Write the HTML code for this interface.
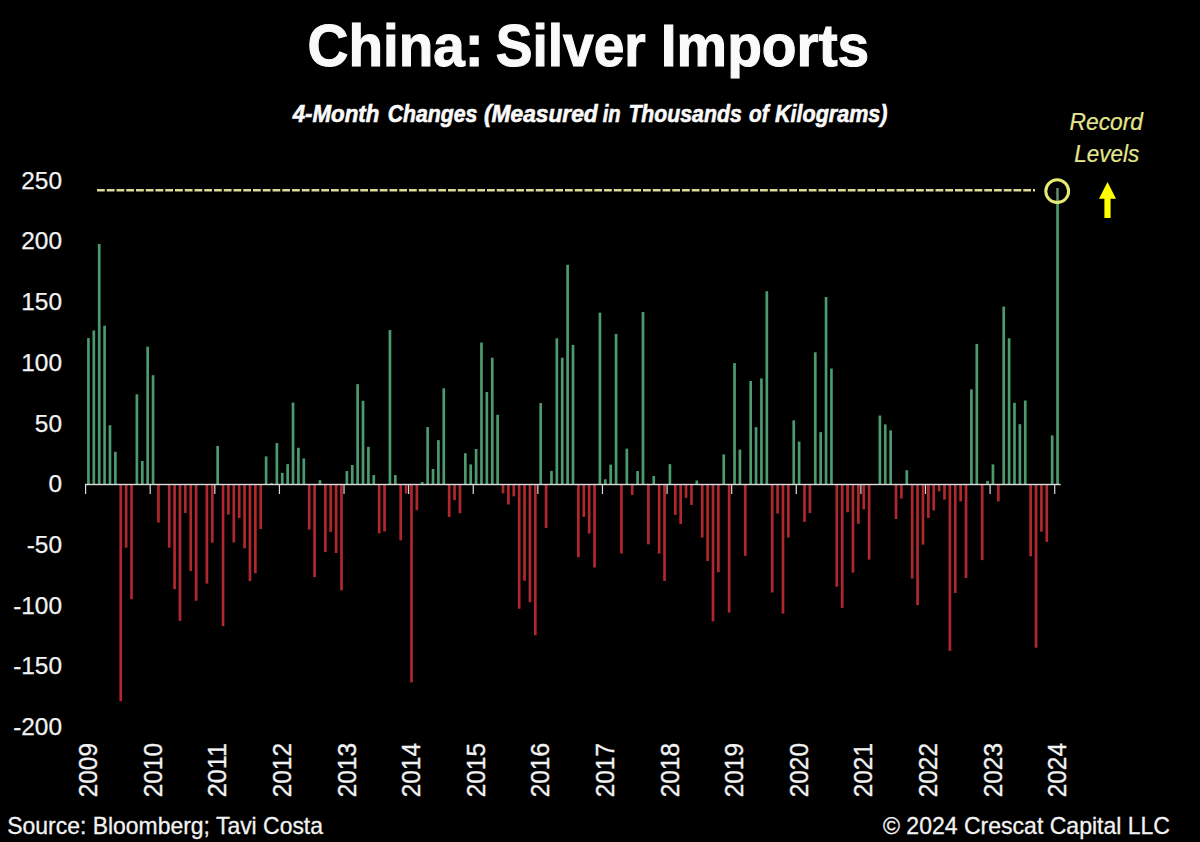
<!DOCTYPE html>
<html><head><meta charset="utf-8"><title>China: Silver Imports</title>
<style>
html,body{margin:0;padding:0;background:#000;}
body{width:1200px;height:842px;overflow:hidden;position:relative;}
svg{position:absolute;left:0;top:0;display:block;}
text{font-family:"Liberation Sans",Arial,sans-serif;}
</style></head><body>
<svg width="1200" height="842" viewBox="0 0 1200 842">
<rect x="0" y="0" width="1200" height="842" fill="#000"/>
<g font-size="59.4" font-weight="bold" fill="#fafafa" stroke="#fafafa" stroke-width="1.1">
<text x="307.59" y="66.3" textLength="176.15" lengthAdjust="spacingAndGlyphs">China:</text>
<text x="495.77" y="66.3" textLength="150.04" lengthAdjust="spacingAndGlyphs">Silver</text>
<text x="660.83" y="66.3" textLength="208.39" lengthAdjust="spacingAndGlyphs">Imports</text>
</g>
<g font-size="23" font-weight="bold" font-style="italic" fill="#fafafa" stroke="#fafafa" stroke-width="0.6">
<text x="292.67" y="121.8" textLength="86.74" lengthAdjust="spacingAndGlyphs">4-Month</text>
<text x="387.7" y="121.8" textLength="89.73" lengthAdjust="spacingAndGlyphs">Changes</text>
<text x="484.0" y="121.8" textLength="113.76" lengthAdjust="spacingAndGlyphs">(Measured</text>
<text x="602.7" y="121.8" textLength="18.0" lengthAdjust="spacingAndGlyphs">in</text>
<text x="628.38" y="121.8" textLength="113.32" lengthAdjust="spacingAndGlyphs">Thousands</text>
<text x="749.0" y="121.8" textLength="19.64" lengthAdjust="spacingAndGlyphs">of</text>
<text x="775.0" y="121.8" textLength="112.43" lengthAdjust="spacingAndGlyphs">Kilograms)</text>
</g>
<g font-size="24.4" fill="#f2f2f2" stroke="#f2f2f2" stroke-width="0.25">
<text x="62" y="188.7" text-anchor="end">250</text>
<text x="62" y="249.4" text-anchor="end">200</text>
<text x="62" y="310.1" text-anchor="end">150</text>
<text x="62" y="370.8" text-anchor="end">100</text>
<text x="62" y="431.5" text-anchor="end">50</text>
<text x="62" y="492.2" text-anchor="end">0</text>
<text x="62" y="552.9" text-anchor="end">-50</text>
<text x="62" y="613.6" text-anchor="end">-100</text>
<text x="62" y="674.3" text-anchor="end">-150</text>
<text x="62" y="735" text-anchor="end">-200</text>
</g>
<line x1="97" y1="190.2" x2="1035" y2="190.2" stroke="#dcd79a" stroke-width="2.5" stroke-dasharray="7.8 1.95"/>
<g>
<rect x="87.1" y="338.09" width="2.69" height="146.41" fill="#4b9b6f"/>
<rect x="92.48" y="330.45" width="2.69" height="154.05" fill="#4b9b6f"/>
<rect x="97.86" y="243.92" width="2.69" height="240.58" fill="#4b9b6f"/>
<rect x="103.25" y="325.73" width="2.69" height="158.77" fill="#4b9b6f"/>
<rect x="108.63" y="425.23" width="2.69" height="59.27" fill="#4b9b6f"/>
<rect x="114.02" y="451.78" width="2.69" height="32.72" fill="#4b9b6f"/>
<rect x="119.4" y="484.5" width="2.69" height="216.71" fill="#b0282e"/>
<rect x="124.79" y="484.5" width="2.69" height="63.15" fill="#b0282e"/>
<rect x="130.17" y="484.5" width="2.69" height="114.78" fill="#b0282e"/>
<rect x="135.55" y="394.33" width="2.69" height="90.17" fill="#4b9b6f"/>
<rect x="140.94" y="460.99" width="2.69" height="23.51" fill="#4b9b6f"/>
<rect x="146.32" y="346.7" width="2.69" height="137.8" fill="#4b9b6f"/>
<rect x="151.71" y="375.18" width="2.69" height="109.32" fill="#4b9b6f"/>
<rect x="157.09" y="484.5" width="2.69" height="38.06" fill="#b0282e"/>
<rect x="167.86" y="484.5" width="2.69" height="63.15" fill="#b0282e"/>
<rect x="173.24" y="484.5" width="2.69" height="104.6" fill="#b0282e"/>
<rect x="178.62" y="484.5" width="2.69" height="136.35" fill="#b0282e"/>
<rect x="184.01" y="484.5" width="2.69" height="28.48" fill="#b0282e"/>
<rect x="189.39" y="484.5" width="2.69" height="86.54" fill="#b0282e"/>
<rect x="194.78" y="484.5" width="2.69" height="116.23" fill="#b0282e"/>
<rect x="205.54" y="484.5" width="2.69" height="99.14" fill="#b0282e"/>
<rect x="210.93" y="484.5" width="2.69" height="58.18" fill="#b0282e"/>
<rect x="216.31" y="445.96" width="2.69" height="38.54" fill="#4b9b6f"/>
<rect x="221.7" y="484.5" width="2.69" height="141.68" fill="#b0282e"/>
<rect x="227.08" y="484.5" width="2.69" height="30.06" fill="#b0282e"/>
<rect x="232.47" y="484.5" width="2.69" height="57.93" fill="#b0282e"/>
<rect x="237.85" y="484.5" width="2.69" height="33.57" fill="#b0282e"/>
<rect x="243.23" y="484.5" width="2.69" height="63.75" fill="#b0282e"/>
<rect x="248.62" y="484.5" width="2.69" height="96.48" fill="#b0282e"/>
<rect x="254" y="484.5" width="2.69" height="88.72" fill="#b0282e"/>
<rect x="259.38" y="484.5" width="2.69" height="44.48" fill="#b0282e"/>
<rect x="264.77" y="456.38" width="2.69" height="28.12" fill="#4b9b6f"/>
<rect x="270.15" y="483.05" width="2.69" height="1.45" fill="#4b9b6f"/>
<rect x="275.54" y="443.05" width="2.69" height="41.45" fill="#4b9b6f"/>
<rect x="280.92" y="472.86" width="2.69" height="11.64" fill="#4b9b6f"/>
<rect x="286.3" y="464.14" width="2.69" height="20.36" fill="#4b9b6f"/>
<rect x="291.69" y="402.57" width="2.69" height="81.93" fill="#4b9b6f"/>
<rect x="297.07" y="447.78" width="2.69" height="36.72" fill="#4b9b6f"/>
<rect x="302.46" y="458.44" width="2.69" height="26.06" fill="#4b9b6f"/>
<rect x="307.84" y="484.5" width="2.69" height="45.09" fill="#b0282e"/>
<rect x="313.22" y="484.5" width="2.69" height="92.6" fill="#b0282e"/>
<rect x="318.61" y="480.14" width="2.69" height="4.36" fill="#4b9b6f"/>
<rect x="323.99" y="484.5" width="2.69" height="67.51" fill="#b0282e"/>
<rect x="329.38" y="484.5" width="2.69" height="47.39" fill="#b0282e"/>
<rect x="334.76" y="484.5" width="2.69" height="68.48" fill="#b0282e"/>
<rect x="340.14" y="484.5" width="2.69" height="105.81" fill="#b0282e"/>
<rect x="345.53" y="471.05" width="2.69" height="13.45" fill="#4b9b6f"/>
<rect x="350.91" y="464.99" width="2.69" height="19.51" fill="#4b9b6f"/>
<rect x="356.3" y="384.15" width="2.69" height="100.35" fill="#4b9b6f"/>
<rect x="361.68" y="400.75" width="2.69" height="83.75" fill="#4b9b6f"/>
<rect x="367.06" y="446.81" width="2.69" height="37.69" fill="#4b9b6f"/>
<rect x="372.45" y="475.05" width="2.69" height="9.45" fill="#4b9b6f"/>
<rect x="377.83" y="484.5" width="2.69" height="48.84" fill="#b0282e"/>
<rect x="383.22" y="484.5" width="2.69" height="46.9" fill="#b0282e"/>
<rect x="388.6" y="330.09" width="2.69" height="154.41" fill="#4b9b6f"/>
<rect x="393.99" y="475.05" width="2.69" height="9.45" fill="#4b9b6f"/>
<rect x="399.37" y="484.5" width="2.69" height="55.87" fill="#b0282e"/>
<rect x="404.75" y="484.5" width="2.69" height="9.09" fill="#b0282e"/>
<rect x="410.14" y="484.5" width="2.69" height="197.92" fill="#b0282e"/>
<rect x="415.52" y="484.5" width="2.69" height="25.69" fill="#b0282e"/>
<rect x="420.9" y="482.08" width="2.69" height="2.42" fill="#4b9b6f"/>
<rect x="426.29" y="427.05" width="2.69" height="57.45" fill="#4b9b6f"/>
<rect x="431.67" y="468.99" width="2.69" height="15.51" fill="#4b9b6f"/>
<rect x="437.06" y="440.14" width="2.69" height="44.36" fill="#4b9b6f"/>
<rect x="442.44" y="388.27" width="2.69" height="96.23" fill="#4b9b6f"/>
<rect x="447.82" y="484.5" width="2.69" height="32.48" fill="#b0282e"/>
<rect x="453.21" y="484.5" width="2.69" height="15.63" fill="#b0282e"/>
<rect x="458.59" y="484.5" width="2.69" height="28.72" fill="#b0282e"/>
<rect x="463.98" y="453.23" width="2.69" height="31.27" fill="#4b9b6f"/>
<rect x="469.36" y="464.38" width="2.69" height="20.12" fill="#4b9b6f"/>
<rect x="474.75" y="448.99" width="2.69" height="35.51" fill="#4b9b6f"/>
<rect x="480.13" y="342.57" width="2.69" height="141.93" fill="#4b9b6f"/>
<rect x="485.51" y="392.02" width="2.69" height="92.48" fill="#4b9b6f"/>
<rect x="490.9" y="357.72" width="2.69" height="126.78" fill="#4b9b6f"/>
<rect x="496.28" y="414.81" width="2.69" height="69.69" fill="#4b9b6f"/>
<rect x="501.67" y="484.5" width="2.69" height="8.85" fill="#b0282e"/>
<rect x="507.05" y="484.5" width="2.69" height="20" fill="#b0282e"/>
<rect x="512.43" y="484.5" width="2.69" height="11.88" fill="#b0282e"/>
<rect x="517.82" y="484.5" width="2.69" height="124.23" fill="#b0282e"/>
<rect x="523.2" y="484.5" width="2.69" height="96.23" fill="#b0282e"/>
<rect x="528.59" y="484.5" width="2.69" height="117.69" fill="#b0282e"/>
<rect x="533.97" y="484.5" width="2.69" height="150.77" fill="#b0282e"/>
<rect x="539.35" y="403.05" width="2.69" height="81.45" fill="#4b9b6f"/>
<rect x="544.74" y="484.5" width="2.69" height="43.51" fill="#b0282e"/>
<rect x="550.12" y="470.93" width="2.69" height="13.57" fill="#4b9b6f"/>
<rect x="555.5" y="338.33" width="2.69" height="146.17" fill="#4b9b6f"/>
<rect x="560.89" y="357.72" width="2.69" height="126.78" fill="#4b9b6f"/>
<rect x="566.27" y="264.76" width="2.69" height="219.74" fill="#4b9b6f"/>
<rect x="571.66" y="344.88" width="2.69" height="139.62" fill="#4b9b6f"/>
<rect x="577.04" y="484.5" width="2.69" height="72.72" fill="#b0282e"/>
<rect x="582.43" y="484.5" width="2.69" height="32.36" fill="#b0282e"/>
<rect x="587.81" y="484.5" width="2.69" height="49.09" fill="#b0282e"/>
<rect x="593.19" y="484.5" width="2.69" height="83.02" fill="#b0282e"/>
<rect x="598.58" y="312.64" width="2.69" height="171.86" fill="#4b9b6f"/>
<rect x="603.96" y="479.29" width="2.69" height="5.21" fill="#4b9b6f"/>
<rect x="609.35" y="464.62" width="2.69" height="19.88" fill="#4b9b6f"/>
<rect x="614.73" y="333.97" width="2.69" height="150.53" fill="#4b9b6f"/>
<rect x="620.11" y="484.5" width="2.69" height="68.96" fill="#b0282e"/>
<rect x="625.5" y="448.62" width="2.69" height="35.88" fill="#4b9b6f"/>
<rect x="630.88" y="484.5" width="2.69" height="10.42" fill="#b0282e"/>
<rect x="636.26" y="471.05" width="2.69" height="13.45" fill="#4b9b6f"/>
<rect x="641.65" y="312.03" width="2.69" height="172.47" fill="#4b9b6f"/>
<rect x="647.03" y="484.5" width="2.69" height="59.87" fill="#b0282e"/>
<rect x="652.42" y="476.02" width="2.69" height="8.48" fill="#4b9b6f"/>
<rect x="657.8" y="484.5" width="2.69" height="68.96" fill="#b0282e"/>
<rect x="663.19" y="484.5" width="2.69" height="96.48" fill="#b0282e"/>
<rect x="668.57" y="464.14" width="2.69" height="20.36" fill="#4b9b6f"/>
<rect x="673.95" y="484.5" width="2.69" height="30.42" fill="#b0282e"/>
<rect x="679.34" y="484.5" width="2.69" height="39.63" fill="#b0282e"/>
<rect x="684.72" y="484.5" width="2.69" height="13.33" fill="#b0282e"/>
<rect x="690.11" y="484.5" width="2.69" height="20.48" fill="#b0282e"/>
<rect x="695.49" y="480.5" width="2.69" height="4" fill="#4b9b6f"/>
<rect x="700.87" y="484.5" width="2.69" height="53.09" fill="#b0282e"/>
<rect x="706.26" y="484.5" width="2.69" height="76.6" fill="#b0282e"/>
<rect x="711.64" y="484.5" width="2.69" height="136.83" fill="#b0282e"/>
<rect x="717.02" y="484.5" width="2.69" height="87.75" fill="#b0282e"/>
<rect x="722.41" y="454.44" width="2.69" height="30.06" fill="#4b9b6f"/>
<rect x="727.79" y="484.5" width="2.69" height="128.11" fill="#b0282e"/>
<rect x="733.18" y="363.06" width="2.69" height="121.44" fill="#4b9b6f"/>
<rect x="738.56" y="449.59" width="2.69" height="34.91" fill="#4b9b6f"/>
<rect x="743.95" y="484.5" width="2.69" height="71.39" fill="#b0282e"/>
<rect x="749.33" y="381" width="2.69" height="103.5" fill="#4b9b6f"/>
<rect x="754.71" y="427.17" width="2.69" height="57.33" fill="#4b9b6f"/>
<rect x="760.1" y="378.45" width="2.69" height="106.05" fill="#4b9b6f"/>
<rect x="765.48" y="291.19" width="2.69" height="193.31" fill="#4b9b6f"/>
<rect x="770.87" y="484.5" width="2.69" height="107.99" fill="#b0282e"/>
<rect x="776.25" y="484.5" width="2.69" height="29.09" fill="#b0282e"/>
<rect x="781.63" y="484.5" width="2.69" height="129.08" fill="#b0282e"/>
<rect x="787.02" y="484.5" width="2.69" height="53.09" fill="#b0282e"/>
<rect x="792.4" y="420.39" width="2.69" height="64.11" fill="#4b9b6f"/>
<rect x="797.78" y="441.6" width="2.69" height="42.9" fill="#4b9b6f"/>
<rect x="803.17" y="484.5" width="2.69" height="37.33" fill="#b0282e"/>
<rect x="808.55" y="484.5" width="2.69" height="28.48" fill="#b0282e"/>
<rect x="813.94" y="352.27" width="2.69" height="132.23" fill="#4b9b6f"/>
<rect x="819.32" y="432.14" width="2.69" height="52.36" fill="#4b9b6f"/>
<rect x="824.71" y="297" width="2.69" height="187.5" fill="#4b9b6f"/>
<rect x="830.09" y="368.51" width="2.69" height="115.99" fill="#4b9b6f"/>
<rect x="835.47" y="484.5" width="2.69" height="102.17" fill="#b0282e"/>
<rect x="840.86" y="484.5" width="2.69" height="123.38" fill="#b0282e"/>
<rect x="846.24" y="484.5" width="2.69" height="27.75" fill="#b0282e"/>
<rect x="851.62" y="484.5" width="2.69" height="88.11" fill="#b0282e"/>
<rect x="857.01" y="484.5" width="2.69" height="39.27" fill="#b0282e"/>
<rect x="862.39" y="484.5" width="2.69" height="24.85" fill="#b0282e"/>
<rect x="867.78" y="484.5" width="2.69" height="75.14" fill="#b0282e"/>
<rect x="878.55" y="415.54" width="2.69" height="68.96" fill="#4b9b6f"/>
<rect x="883.93" y="424.38" width="2.69" height="60.12" fill="#4b9b6f"/>
<rect x="889.31" y="430.32" width="2.69" height="54.18" fill="#4b9b6f"/>
<rect x="894.7" y="484.5" width="2.69" height="34.54" fill="#b0282e"/>
<rect x="900.08" y="484.5" width="2.69" height="14.06" fill="#b0282e"/>
<rect x="905.47" y="470.2" width="2.69" height="14.3" fill="#4b9b6f"/>
<rect x="910.85" y="484.5" width="2.69" height="94.05" fill="#b0282e"/>
<rect x="916.23" y="484.5" width="2.69" height="120.59" fill="#b0282e"/>
<rect x="921.62" y="484.5" width="2.69" height="60.12" fill="#b0282e"/>
<rect x="927" y="484.5" width="2.69" height="33.45" fill="#b0282e"/>
<rect x="932.38" y="484.5" width="2.69" height="25.94" fill="#b0282e"/>
<rect x="937.77" y="484.5" width="2.69" height="6.91" fill="#b0282e"/>
<rect x="943.15" y="484.5" width="2.69" height="15.15" fill="#b0282e"/>
<rect x="948.54" y="484.5" width="2.69" height="166.41" fill="#b0282e"/>
<rect x="953.92" y="484.5" width="2.69" height="108.47" fill="#b0282e"/>
<rect x="959.31" y="484.5" width="2.69" height="16.85" fill="#b0282e"/>
<rect x="964.69" y="484.5" width="2.69" height="93.45" fill="#b0282e"/>
<rect x="970.07" y="389.36" width="2.69" height="95.14" fill="#4b9b6f"/>
<rect x="975.46" y="343.91" width="2.69" height="140.59" fill="#4b9b6f"/>
<rect x="980.84" y="484.5" width="2.69" height="75.63" fill="#b0282e"/>
<rect x="986.23" y="480.86" width="2.69" height="3.64" fill="#4b9b6f"/>
<rect x="991.61" y="464.38" width="2.69" height="20.12" fill="#4b9b6f"/>
<rect x="996.99" y="484.5" width="2.69" height="16.85" fill="#b0282e"/>
<rect x="1002.38" y="306.58" width="2.69" height="177.92" fill="#4b9b6f"/>
<rect x="1007.76" y="338.21" width="2.69" height="146.29" fill="#4b9b6f"/>
<rect x="1013.14" y="402.81" width="2.69" height="81.69" fill="#4b9b6f"/>
<rect x="1018.53" y="424.14" width="2.69" height="60.36" fill="#4b9b6f"/>
<rect x="1023.91" y="400.51" width="2.69" height="83.99" fill="#4b9b6f"/>
<rect x="1029.3" y="484.5" width="2.69" height="71.75" fill="#b0282e"/>
<rect x="1034.68" y="484.5" width="2.69" height="163.26" fill="#b0282e"/>
<rect x="1040.07" y="484.5" width="2.69" height="47.15" fill="#b0282e"/>
<rect x="1045.45" y="484.5" width="2.69" height="57.33" fill="#b0282e"/>
<rect x="1050.83" y="435.41" width="2.69" height="49.09" fill="#4b9b6f"/>
<rect x="1056.22" y="188.04" width="2.69" height="296.46" fill="#4b9b6f"/>
</g>
<rect x="85.2" y="483.8" width="975.5" height="1.4" fill="#dcdcdc"/>
<rect x="85" y="484" width="1.2" height="10" fill="#d9d9d9"/>
<rect x="149.61" y="484" width="1.2" height="10" fill="#d9d9d9"/>
<rect x="214.22" y="484" width="1.2" height="10" fill="#d9d9d9"/>
<rect x="278.82" y="484" width="1.2" height="10" fill="#d9d9d9"/>
<rect x="343.43" y="484" width="1.2" height="10" fill="#d9d9d9"/>
<rect x="408.04" y="484" width="1.2" height="10" fill="#d9d9d9"/>
<rect x="472.65" y="484" width="1.2" height="10" fill="#d9d9d9"/>
<rect x="537.26" y="484" width="1.2" height="10" fill="#d9d9d9"/>
<rect x="601.86" y="484" width="1.2" height="10" fill="#d9d9d9"/>
<rect x="666.47" y="484" width="1.2" height="10" fill="#d9d9d9"/>
<rect x="731.08" y="484" width="1.2" height="10" fill="#d9d9d9"/>
<rect x="795.69" y="484" width="1.2" height="10" fill="#d9d9d9"/>
<rect x="860.3" y="484" width="1.2" height="10" fill="#d9d9d9"/>
<rect x="924.9" y="484" width="1.2" height="10" fill="#d9d9d9"/>
<rect x="989.51" y="484" width="1.2" height="10" fill="#d9d9d9"/>
<rect x="1054.12" y="484" width="1.2" height="10" fill="#d9d9d9"/>
<g font-size="25.5" fill="#f2f2f2" stroke="#f2f2f2" stroke-width="0.35">
<text transform="translate(97.09,797.3) rotate(-90)" textLength="54.3" lengthAdjust="spacingAndGlyphs">2009</text>
<text transform="translate(161.7,797.3) rotate(-90)" textLength="54.3" lengthAdjust="spacingAndGlyphs">2010</text>
<text transform="translate(226.31,797.3) rotate(-90)" textLength="54.3" lengthAdjust="spacingAndGlyphs">2011</text>
<text transform="translate(290.92,797.3) rotate(-90)" textLength="54.3" lengthAdjust="spacingAndGlyphs">2012</text>
<text transform="translate(355.52,797.3) rotate(-90)" textLength="54.3" lengthAdjust="spacingAndGlyphs">2013</text>
<text transform="translate(420.13,797.3) rotate(-90)" textLength="54.3" lengthAdjust="spacingAndGlyphs">2014</text>
<text transform="translate(484.74,797.3) rotate(-90)" textLength="54.3" lengthAdjust="spacingAndGlyphs">2015</text>
<text transform="translate(549.35,797.3) rotate(-90)" textLength="54.3" lengthAdjust="spacingAndGlyphs">2016</text>
<text transform="translate(613.96,797.3) rotate(-90)" textLength="54.3" lengthAdjust="spacingAndGlyphs">2017</text>
<text transform="translate(678.56,797.3) rotate(-90)" textLength="54.3" lengthAdjust="spacingAndGlyphs">2018</text>
<text transform="translate(743.17,797.3) rotate(-90)" textLength="54.3" lengthAdjust="spacingAndGlyphs">2019</text>
<text transform="translate(807.78,797.3) rotate(-90)" textLength="54.3" lengthAdjust="spacingAndGlyphs">2020</text>
<text transform="translate(872.39,797.3) rotate(-90)" textLength="54.3" lengthAdjust="spacingAndGlyphs">2021</text>
<text transform="translate(937,797.3) rotate(-90)" textLength="54.3" lengthAdjust="spacingAndGlyphs">2022</text>
<text transform="translate(1001.6,797.3) rotate(-90)" textLength="54.3" lengthAdjust="spacingAndGlyphs">2023</text>
<text transform="translate(1066.21,797.3) rotate(-90)" textLength="54.3" lengthAdjust="spacingAndGlyphs">2024</text>
</g>
<rect x="1056.1" y="188" width="2.2" height="13" fill="#000"/><rect x="1056.3" y="188" width="1.9" height="13" fill="#6f8f7c"/>
<circle cx="1057.2" cy="191.2" r="11.4" fill="none" stroke="#e6ea72" stroke-width="3"/>
<path d="M1107.5 182 L1116 198.8 L1110.6 198.8 L1110.6 218 L1104.4 218 L1104.4 198.8 L1099 198.8 Z" fill="#ffff00"/>
<g font-size="24.2" font-style="italic" fill="#e4e68e" stroke="#e4e68e" stroke-width="0.2">
<text x="1069.6" y="129.6" textLength="73.4" lengthAdjust="spacingAndGlyphs">Record</text>
<text x="1074.3" y="162.2" textLength="65" lengthAdjust="spacingAndGlyphs">Levels</text>
</g>
<g font-size="24" fill="#f2f2f2" stroke="#f2f2f2" stroke-width="0.3">
<text x="7.3" y="834" textLength="315.7" lengthAdjust="spacingAndGlyphs">Source: Bloomberg; Tavi Costa</text>
<text x="883" y="834" textLength="287" lengthAdjust="spacingAndGlyphs">© 2024 Crescat Capital LLC</text>
</g>
</svg>
</body></html>
